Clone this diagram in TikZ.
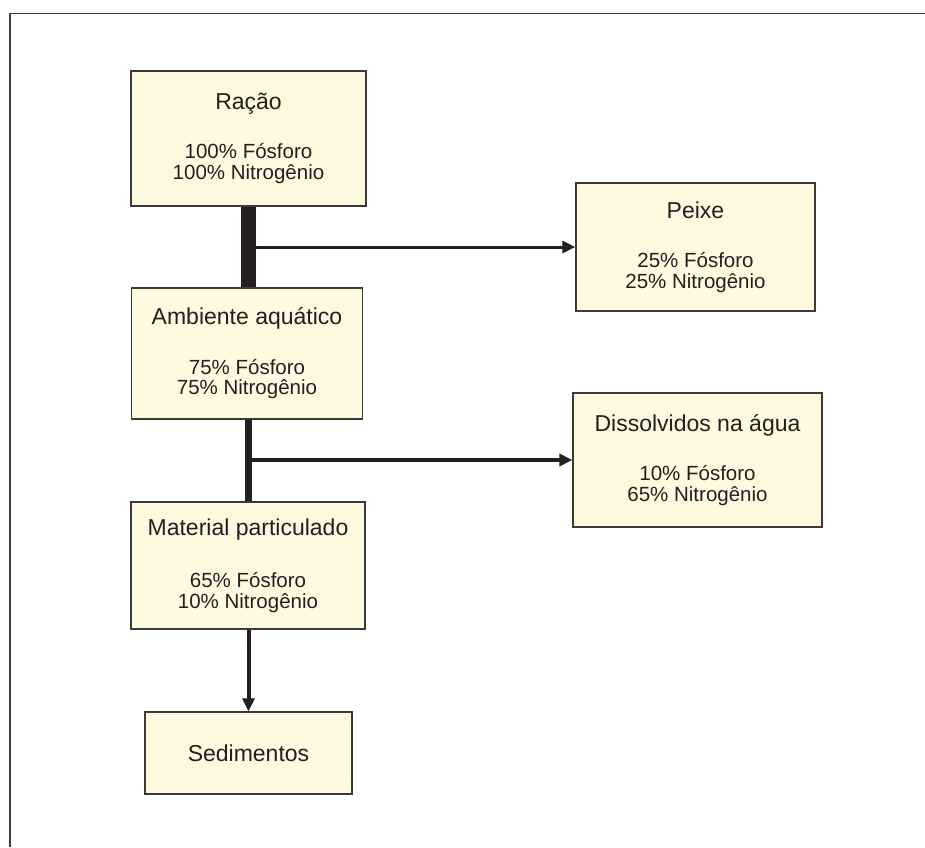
\documentclass[tikz,border=0pt]{standalone}
\usepackage{fontspec}
\setmainfont{Liberation Sans}
\usetikzlibrary{arrows.meta}
\definecolor{boxfill}{HTML}{FFFADF}
\definecolor{boxline}{HTML}{3A3A3A}
\definecolor{ink}{HTML}{231F20}
\definecolor{framecol}{HTML}{3C3C3C}
\newcommand{\ttl}[1]{{\fontsize{23}{20.5}\selectfont #1}}
\begin{document}
\begin{tikzpicture}[x=1pt,y=-1pt,
  flowbox/.style={draw=boxline, line width=1.3pt, fill=boxfill, inner sep=0pt,
    align=center, text=ink, font=\fontsize{20.5}{20.8}\selectfont},
  flowarrow/.style={draw=ink, -{Triangle[length=13pt,width=12pt]}},
  trunk/.style={draw=ink, line cap=butt}]
  \useasboundingbox (0,0) rectangle (925,847);
  \fill[white] (0,0) rectangle (925,847);
  % frame on the top and left sides
  \draw[framecol, line width=1.3pt] (10,847) -- (10,13.5) -- (925,13.5);

  % boxes
  \node[flowbox, minimum width=235pt, minimum height=135pt] (racao) at (248.5,138.5)
    {\ttl{Ração}\\[28.5pt]100\% Fósforo\\100\% Nitrogênio};
  \node[flowbox, minimum width=231pt, minimum height=131pt] (amb) at (247,353.5)
    {\ttl{Ambiente aquático}\\[28.5pt]75\% Fósforo\\75\% Nitrogênio};
  \node[flowbox, minimum width=234pt, minimum height=127pt] (mat) at (248,565.5)
    {\ttl{Material particulado}\\[31pt]65\% Fósforo\\10\% Nitrogênio};
  \node[flowbox, minimum width=207pt, minimum height=82pt] (sed) at (248.5,753)
    {\ttl{Sedimentos}};
  \node[flowbox, minimum width=239pt, minimum height=128pt] (peixe) at (695.5,247)
    {\ttl{Peixe}\\[28.5pt]25\% Fósforo\\25\% Nitrogênio};
  \node[flowbox, minimum width=249pt, minimum height=134pt] (diss) at (697.5,460)
    {\ttl{Dissolvidos na água}\\[28.5pt]10\% Fósforo\\65\% Nitrogênio};

  % junction points on the trunks
  \coordinate (j1) at (racao.south |- peixe.west);
  \coordinate (j2) at (racao.south |- diss.west);

  % trunks and branches
  \draw[trunk, line width=15pt] (racao.south) -- (racao.south |- amb.north);
  \draw[flowarrow, line width=3pt] (j1) -- (peixe.west);
  \draw[trunk, line width=7pt] (racao.south |- amb.south) -- (racao.south |- mat.north);
  \draw[flowarrow, line width=4pt] (j2) -- (diss.west);
  \draw[flowarrow, line width=4pt] (racao.south |- mat.south) -- (racao.south |- sed.north);
\end{tikzpicture}
\end{document}
